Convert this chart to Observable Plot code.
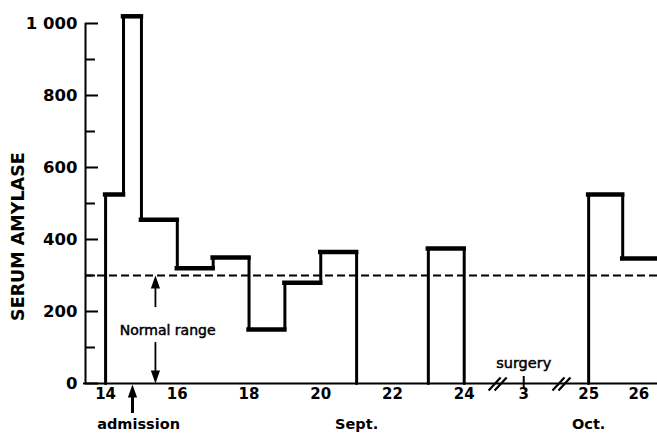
<!DOCTYPE html>
<html><head><meta charset="utf-8">
<script src="https://cdn.jsdelivr.net/npm/d3@7"></script>
<script src="https://cdn.jsdelivr.net/npm/@observablehq/plot@0.6"></script>
<style>body{margin:0;background:#fff}</style>
</head><body><div id="chart"></div>
<script>
// ---- data (x = day position on a broken axis; Sept days 14..24, then Oct 3, Oct 25, Oct 26) ----
const sepEdges = [14, 14.5, 15, 16, 17, 18, 19, 20, 21];
const sepValues = [525, 1020, 455, 320, 350, 150, 280, 365];
const sep2Edges = [23, 24];
const sep2Values = [375];
const octEdges = [27.47, 28.42, 29.39];
const octValues = [525, 347];
const normalUpper = 300;

const yMajor = [0, 200, 400, 600, 800, 1000];
const yTickLabels = ["0", "200", "400", "600", "800", "1 000"];
const yMinor = [100, 300, 500, 700, 900];
const xTickPos = [14, 16, 18, 20, 22, 24, 25.66, 27.47, 28.87];
const xTickLabels = ["14", "16", "18", "20", "22", "24", "3", "25", "26"];
const bottomLabels = ["admission", "Sept.", "Oct."];
const bottomLabelPos = [14.92, 21.0, 27.47];
const breakPos = [24.96, 26.74];
const surgeryPos = 25.66;
const admissionPos = 14.75;
const normalArrowPos = 15.39;
const normalTextPos = 15.73;
const normalTextY = 147;
const yLabelY = 408;

// ---- layout ----
const W = 657, H = 437, ML = 85, MR = 0, MT = 23, MB = 54;
const xDomain = [13.44, 29.39];
const yDomain = [0, 1000];
const pxX = (xDomain[1] - xDomain[0]) / (W - ML - MR);
const pxY = (yDomain[1] - yDomain[0]) / (H - MT - MB);
const FONT = "DejaVu Sans";

function stepPoints(edges, values, close, id) {
  const pts = [{x: edges[0], y: 0, b: id}];
  values.forEach((v, i) => pts.push({x: edges[i], y: v, b: id}));
  const n = edges.length - 1;
  pts.push({x: edges[n], y: close ? 0 : values[values.length - 1], b: id});
  return pts;
}
function tops(edges, values) {
  return values.map((v, i) => ({x1: edges[i], x2: edges[i + 1], y: v}));
}
const steps = [
  ...stepPoints(sepEdges, sepValues, true, "a"),
  ...stepPoints(sep2Edges, sep2Values, true, "b"),
  ...stepPoints(octEdges, octValues, false, "c")
];
const topSegs = [...tops(sepEdges, sepValues), ...tops(sep2Edges, sep2Values), ...tops(octEdges, octValues)];

const slashes = breakPos.flatMap(b => [-6, 0].map(o => ({
  x1: b + (o - 4) * pxX, y1: -7 * pxY, x2: b + (o + 8) * pxX, y2: 6 * pxY
})));

const headUp = {draw(ctx) { ctx.moveTo(0, 0); ctx.lineTo(4.6, 13); ctx.lineTo(-4.6, 13); ctx.closePath(); }};

const chart = Plot.plot({
  width: W, height: H,
  marginLeft: ML, marginRight: MR, marginTop: MT, marginBottom: MB,
  x: {domain: xDomain, axis: null},
  y: {domain: yDomain, axis: null},
  style: {fontFamily: FONT, color: "black", background: "white", overflow: "visible"},
  marks: [
    Plot.ruleY([normalUpper], {stroke: "black", strokeWidth: 2, strokeDasharray: "8,4"}),
    Plot.line(steps, {x: "x", y: "y", z: "b", curve: "step-after", stroke: "black", strokeWidth: 3, strokeLinejoin: "miter"}),
    Plot.ruleY(topSegs, {x1: "x1", x2: "x2", y: "y", stroke: "black", strokeWidth: 4.5, strokeLinecap: "square"}),
    // axis lines
    Plot.ruleX([xDomain[0]], {y1: 0, y2: 1000, stroke: "black", strokeWidth: 2}),
    Plot.ruleY([0], {x1: xDomain[0] - 2 * pxX, x2: xDomain[1], stroke: "black", strokeWidth: 2}),
    // inward y ticks
    Plot.axisY(yMajor, {tickSize: 13, dx: 13, tickFormat: () => "", strokeWidth: 2, label: null}),
    Plot.axisY(yMinor, {tickSize: 10, dx: 10, tickFormat: () => "", strokeWidth: 2, label: null}),
    Plot.axisY(yMajor, {tickSize: 0, tickPadding: 8, tickFormat: d => yTickLabels[yMajor.indexOf(d)],
      fontSize: 16.5, fontWeight: "bold", label: null}),
    Plot.text(["SERUM AMYLASE"], {frameAnchor: "left", y: [yLabelY], dx: -67, rotate: -90,
      textAnchor: "middle", fontSize: 17.5, fontWeight: "bold"}),
    // x tick labels
    Plot.text(xTickPos, {x: d => d, text: (d, i) => xTickLabels[i], frameAnchor: "bottom", dy: 15,
      fontSize: 15, fontWeight: "bold"}),
    Plot.text(bottomLabelPos, {x: d => d, text: (d, i) => bottomLabels[i], frameAnchor: "bottom", dy: 45,
      fontSize: 14.5, fontWeight: "bold"}),
    // axis breaks
    Plot.link(slashes, {x1: "x1", y1: "y1", x2: "x2", y2: "y2", stroke: "black", strokeWidth: 2.2}),
    // surgery
    Plot.ruleX([surgeryPos], {y1: -6 * pxY, y2: 7 * pxY, stroke: "black", strokeWidth: 2}),
    Plot.text(["surgery"], {x: [surgeryPos], y: [55], fontSize: 14.5, fill: "black", stroke: "black", strokeWidth: 0.5}),
    // admission arrow
    Plot.ruleX([admissionPos], {y1: -30 * pxY, y2: -8 * pxY, stroke: "black", strokeWidth: 3}),
    Plot.dot([admissionPos], {x: d => d, y: [-1 * pxY], symbol: headUp, fill: "black", stroke: "none"}),
    // normal range
    Plot.ruleX([normalArrowPos], {y1: normalUpper - 8 * pxY, y2: normalTextY + 23 * pxY, stroke: "black", strokeWidth: 1.8}),
    Plot.ruleX([normalArrowPos], {y1: normalTextY - 12 * pxY, y2: 8 * pxY, stroke: "black", strokeWidth: 1.8}),
    Plot.dot([normalArrowPos], {x: d => d, y: [normalUpper], symbol: headUp, fill: "black", stroke: "none"}),
    Plot.dot([normalArrowPos], {x: d => d, y: [0], symbol: headUp, rotate: 180, fill: "black", stroke: "none"}),
    Plot.text(["Normal range"], {x: [normalTextPos], y: [normalTextY], fontSize: 14, fill: "black", stroke: "black", strokeWidth: 0.5})
  ]
});
document.getElementById("chart").append(chart);
</script>
</body></html>
